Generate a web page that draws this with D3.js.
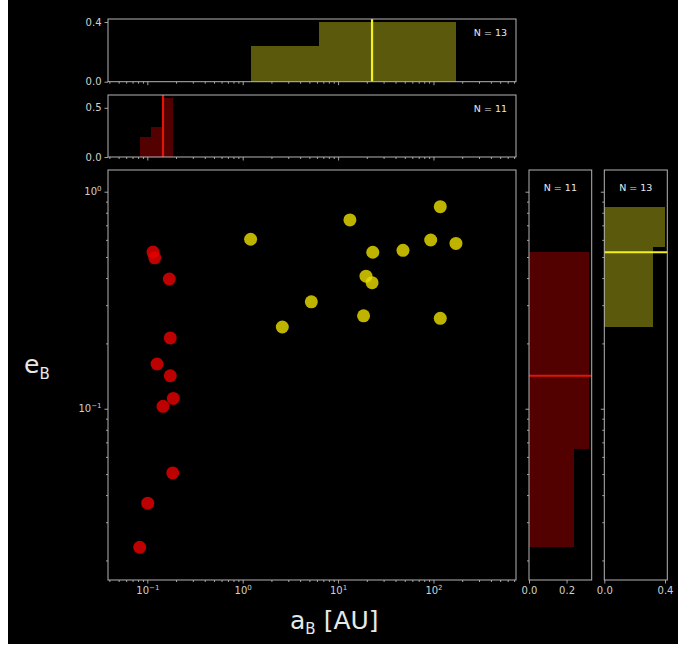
<!DOCTYPE html>
<html>
<head>
<meta charset="utf-8">
<script src="https://cdn.jsdelivr.net/npm/d3@7"></script>
<style>
  html, body { margin: 0; padding: 0; background: #fff; }
  svg { display: block; font-family: "DejaVu Sans", sans-serif; }
</style>
</head>
<body>
<svg id="chart" width="678" height="646"></svg>
<script>
// Binary companions: separation a_B [AU] and eccentricity e_B for two groups
const innerA = [0.1148, 0.1196, 0.170, 0.174, 0.1264, 0.174, 0.1873, 0.146, 0.1846, 0.101, 0.0832];
const innerE = [0.527, 0.496, 0.396, 0.212, 0.1607, 0.1419, 0.1116, 0.1026, 0.0506, 0.0367, 0.0230];
const outerA = [1.21, 13.3, 117.8, 93.5, 172, 23.1, 47.9, 19.6, 22.7, 5.24, 2.60, 18.5, 117.8];
const outerE = [0.604, 0.741, 0.853, 0.599, 0.578, 0.526, 0.537, 0.408, 0.381, 0.311, 0.238, 0.268, 0.261];

// Fraction per bin for the marginal histograms (3 log-spaced bins each)
const innerAFrac = [0.20, 0.30, 0.60];
const outerAFrac = [0.24, 0.40, 0.40];
const innerEFrac = [0.24, 0.32, 0.32];
const outerEFrac = [0.32, 0.32, 0.40];

// Tick values
const xMajorTicks = [0.1, 1, 10, 100];
const yMajorTicks = [0.1, 1];
const topOuterTicks = [0.0, 0.4];
const topInnerTicks = [0.0, 0.5];
const rightInnerTicks = [0.0, 0.2];
const rightOuterTicks = [0.0, 0.4];

const COL = {
  bg: "#000",
  spine: "#b4b4b4",
  tickText: "#d0d0d0",
  text: "#e8e8e8",
  innerDot: "#e60000",
  outerDot: "#e8dc00",
  innerFill: "#520000",
  outerFill: "#5b590b",
  innerLine: "#e01508",
  outerLine: "#f4f01e"
};

const svg = d3.select("#chart");
svg.append("rect").attr("x", 8).attr("y", 0).attr("width", 670).attr("height", 644).attr("fill", COL.bg);

// Panel boxes
const main = { l: 108, r: 516, t: 170, b: 580 };
const topOuter = { l: 108, r: 516, t: 19, b: 81.7 };
const topInner = { l: 108, r: 516, t: 95, b: 157 };
const rightInner = { l: 529, r: 591.7, t: 170, b: 580 };
const rightOuter = { l: 604.3, r: 667.3, t: 170, b: 580 };

const x = d3.scaleLog().domain([0.0387, 733]).range([main.l, main.r]);
const y = d3.scaleLog().domain([0.01625, 1.259]).range([main.b, main.t]);

const sup = { "-1": "\u22121", "0": "0", "1": "1", "2": "2" };

function styleAxis(g) {
  g.select(".domain").remove();
  g.selectAll(".tick line").attr("stroke", COL.spine).attr("stroke-width", 0.9);
  g.selectAll(".tick text").attr("fill", COL.tickText).attr("font-size", 10).attr("font-family", "DejaVu Sans");
}

function powerLabels(g) {
  g.selectAll(".tick text").each(function (d) {
    const t = d3.select(this);
    const e = Math.round(Math.log10(d));
    t.text(null);
    t.append("tspan").text("10");
    t.append("tspan").attr("font-size", 7).attr("dy", -4).text(sup[String(e)]);
  });
}

function minorOf(scale, majors) {
  return scale.ticks().filter(v => !majors.some(m => Math.abs(m - v) / m < 1e-9));
}

// Log x ticks (major + minor) along the bottom of a panel
function logXTicks(panel, labels) {
  const gMaj = svg.append("g").attr("transform", `translate(0,${panel.b})`)
    .call(d3.axisBottom(x).tickValues(xMajorTicks).tickSize(3.5).tickPadding(3));
  styleAxis(gMaj);
  if (labels) powerLabels(gMaj); else gMaj.selectAll(".tick text").remove();
  const gMin = svg.append("g").attr("transform", `translate(0,${panel.b})`)
    .call(d3.axisBottom(x).tickValues(minorOf(x, xMajorTicks)).tickSize(2).tickFormat(""));
  styleAxis(gMin);
}

// Log y ticks (major + minor) along the left of a panel
function logYTicks(panel, labels) {
  const gMaj = svg.append("g").attr("transform", `translate(${panel.l},0)`)
    .call(d3.axisLeft(y).tickValues(yMajorTicks).tickSize(3.5).tickPadding(3));
  styleAxis(gMaj);
  if (labels) powerLabels(gMaj); else gMaj.selectAll(".tick text").remove();
  const gMin = svg.append("g").attr("transform", `translate(${panel.l},0)`)
    .call(d3.axisLeft(y).tickValues(minorOf(y, yMajorTicks)).tickSize(2).tickFormat(""));
  styleAxis(gMin);
}

function frame(panel) {
  svg.append("rect")
    .attr("x", panel.l).attr("y", panel.t)
    .attr("width", panel.r - panel.l).attr("height", panel.b - panel.t)
    .attr("fill", "none").attr("stroke", COL.spine).attr("stroke-width", 1);
}

function logEdges(values, n) {
  const lo = Math.log10(d3.min(values)), hi = Math.log10(d3.max(values));
  return d3.range(n + 1).map(i => Math.pow(10, lo + (hi - lo) * i / n));
}

// ---- Top marginal histograms of a_B ----
function topHist(panel, values, frac, ymax, ticks, fill, line, n) {
  const yh = d3.scaleLinear().domain([0, ymax]).range([panel.b, panel.t]);
  const edges = logEdges(values, frac.length);
  svg.append("g").attr("shape-rendering", "crispEdges")
    .selectAll("rect").data(frac).join("rect")
    .attr("x", (d, i) => x(edges[i]))
    .attr("width", (d, i) => x(edges[i + 1]) - x(edges[i]))
    .attr("y", d => yh(d))
    .attr("height", d => yh(0) - yh(d))
    .attr("fill", fill);
  const med = d3.median(values);
  svg.append("line")
    .attr("x1", x(med)).attr("x2", x(med))
    .attr("y1", panel.t).attr("y2", panel.b)
    .attr("stroke", line).attr("stroke-width", 2.2);
  frame(panel);
  logXTicks(panel, false);
  const gy = svg.append("g").attr("transform", `translate(${panel.l},0)`)
    .call(d3.axisLeft(yh).tickValues(ticks).tickSize(3.5).tickPadding(3).tickFormat(d3.format(".1f")));
  styleAxis(gy);
  svg.append("text").attr("x", panel.r - 9).attr("y", panel.t + 17)
    .attr("text-anchor", "end").attr("font-size", 9.5).attr("fill", COL.text)
    .text(`N = ${n}`);
}

topHist(topOuter, outerA, outerAFrac, 0.42, topOuterTicks, COL.outerFill, COL.outerLine, outerA.length);
topHist(topInner, innerA, innerAFrac, 0.63, topInnerTicks, COL.innerFill, COL.innerLine, innerA.length);

// ---- Right marginal histograms of e_B ----
function rightHist(panel, values, frac, xmax, ticks, fill, line, n) {
  const xh = d3.scaleLinear().domain([0, xmax]).range([panel.l, panel.r]);
  const edges = logEdges(values, frac.length);
  svg.append("g").attr("shape-rendering", "crispEdges")
    .selectAll("rect").data(frac).join("rect")
    .attr("x", xh(0))
    .attr("width", d => xh(d) - xh(0))
    .attr("y", (d, i) => y(edges[i + 1]))
    .attr("height", (d, i) => y(edges[i]) - y(edges[i + 1]))
    .attr("fill", fill);
  const med = d3.median(values);
  svg.append("line")
    .attr("x1", panel.l).attr("x2", panel.r)
    .attr("y1", y(med)).attr("y2", y(med))
    .attr("stroke", line).attr("stroke-width", 2.2);
  frame(panel);
  logYTicks(panel, false);
  const gx = svg.append("g").attr("transform", `translate(0,${panel.b})`)
    .call(d3.axisBottom(xh).tickValues(ticks).tickSize(3.5).tickPadding(3).tickFormat(d3.format(".1f")));
  styleAxis(gx);
  svg.append("text").attr("x", (panel.l + panel.r) / 2).attr("y", panel.t + 21)
    .attr("text-anchor", "middle").attr("font-size", 9.5).attr("fill", COL.text)
    .text(`N = ${n}`);
}

rightHist(rightInner, innerE, innerEFrac, 0.334, rightInnerTicks, COL.innerFill, COL.innerLine, innerE.length);
rightHist(rightOuter, outerE, outerEFrac, 0.415, rightOuterTicks, COL.outerFill, COL.outerLine, outerE.length);

// ---- Main scatter ----
frame(main);
logXTicks(main, true);
logYTicks(main, true);

const dots = svg.append("g");
dots.selectAll("circle.inner").data(d3.zip(innerA, innerE)).join("circle")
  .attr("class", "inner")
  .attr("cx", d => x(d[0])).attr("cy", d => y(d[1])).attr("r", 6.5)
  .attr("fill", COL.innerDot).attr("fill-opacity", 0.82);
dots.selectAll("circle.outer").data(d3.zip(outerA, outerE)).join("circle")
  .attr("class", "outer")
  .attr("cx", d => x(d[0])).attr("cy", d => y(d[1])).attr("r", 6.5)
  .attr("fill", COL.outerDot).attr("fill-opacity", 0.82);

// Axis titles
const xt = svg.append("text").attr("x", 290).attr("y", 629)
  .attr("font-size", 25).attr("fill", COL.text);
xt.append("tspan").text("a");
xt.append("tspan").attr("font-size", 15).attr("dy", 5).text("B");
xt.append("tspan").attr("dy", -5).attr("dx", 8).text("[AU]");

const yt = svg.append("text").attr("x", 24).attr("y", 373)
  .attr("font-size", 25).attr("fill", COL.text);
yt.append("tspan").text("e");
yt.append("tspan").attr("font-size", 15).attr("dy", 6).text("B");
</script>
</body>
</html>
